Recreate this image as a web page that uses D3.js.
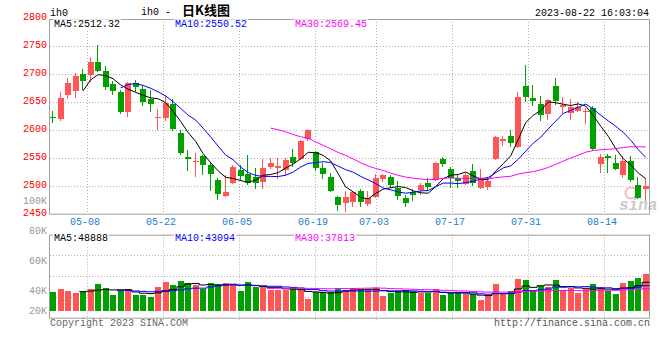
<!DOCTYPE html>
<html><head><meta charset="utf-8">
<script src="https://cdn.jsdelivr.net/npm/d3@7"></script>
<style>
html,body{margin:0;padding:0;background:#fff;}
svg{display:block;}
text{font-family:"Liberation Mono","DejaVu Sans Mono",monospace;}
</style></head><body>
<svg id="chart" width="660" height="360"></svg>
<script>
const dates = ["04-26","04-27","04-28","05-04","05-05","05-08","05-09","05-10","05-11","05-12",
"05-15","05-16","05-17","05-18","05-19","05-22","05-23","05-24","05-25","05-26",
"05-29","05-30","05-31","06-01","06-02","06-05","06-06","06-07","06-08","06-09",
"06-12","06-13","06-14","06-15","06-16","06-19","06-20","06-21","06-26","06-27",
"06-28","06-29","06-30","07-03","07-04","07-05","07-06","07-07","07-10","07-11",
"07-12","07-13","07-14","07-17","07-18","07-19","07-20","07-21","07-24","07-25",
"07-26","07-27","07-28","07-31","08-01","08-02","08-03","08-04","08-07","08-08",
"08-09","08-10","08-11","08-14","08-15","08-16","08-17","08-18","08-21","08-22"];
const opens = [2623,2619.6,2661.3,2668.5,2700,2697,2720.8,2705.4,2682.1,2666.7,
2631,2683.9,2673.2,2655.4,2622,2620.3,2646.4,2594.7,2551.8,2543,
2553.6,2537.5,2510.7,2481.6,2504.2,2528.6,2520.3,2516.1,2506,2534,
2531,2528,2550.6,2548.2,2583.3,2559.5,2532.1,2514.9,2479.8,2469,
2470.8,2489.9,2466.7,2480.4,2512.5,2516.1,2496.7,2477.4,2489,2492.5,
2505.4,2510.7,2548.2,2529.8,2514.3,2503,2526.3,2496.4,2498,2548.5,
2579,2588.8,2569,2678,2656.6,2646,2628,2678,2641,2630.4,
2633.4,2632,2639,2539.5,2553.5,2541,2519,2544,2501.3,2494];
const highs = [2634,2667.9,2692.3,2700.6,2708.9,2730.4,2751.8,2714.3,2686.3,2671.4,
2684.5,2689.3,2679.8,2670.8,2636.9,2662.5,2655.4,2600,2564.3,2558.3,
2555,2542.9,2514.3,2519.1,2536.9,2537.5,2555.4,2531,2547,2549.4,
2550,2548.8,2564.9,2581.5,2600.6,2561.3,2539.9,2522,2481,2490.5,
2488.7,2494.6,2491,2520.2,2521.4,2519,2509,2482.7,2495,2505,
2514,2542.3,2550.7,2534,2519.6,2523,2539,2530,2516,2588,
2588,2599.5,2666.8,2715.5,2680.4,2660,2654,2693,2658.5,2655,
2650,2639,2642,2556,2556.6,2554,2553.5,2553,2515.5,2512];
const lows = [2613,2616.7,2657.1,2657.7,2673.2,2686.3,2704,2673.2,2663.7,2630,
2623.8,2668.5,2644,2633.3,2601.2,2617.3,2599,2557,2527.4,2516.7,
2521.4,2491.7,2475.6,2481.6,2504.2,2509.5,2503,2495.3,2495.3,2531,
2513.7,2518.5,2535.1,2548.2,2582.1,2528,2513.7,2490,2457.1,2454.8,
2463.1,2463,2466,2480.4,2508.3,2497,2475.6,2463.7,2474,2485,
2492,2510.7,2535.2,2498.2,2498.2,2503,2501,2496,2495,2548,
2573,2571.4,2569,2652,2644.6,2617,2619,2646,2629,2619,
2633,2612,2564,2525,2524,2530,2515.5,2508.5,2478.6,2474.5];
const closes = [2622,2657.1,2683.9,2696.4,2686.3,2720.8,2704.2,2675.6,2668.5,2631,
2682.7,2676.2,2648.8,2645.8,2623,2647,2600.6,2557.8,2547,2544,
2536.9,2520.3,2484.5,2489.3,2534,2517.9,2504.2,2504.8,2532.2,2541.1,
2534.5,2545.2,2539.9,2579.8,2598.8,2531.6,2520.8,2490.5,2465.5,2479.8,
2488.7,2470.8,2478,2513.1,2519,2500.6,2482,2468.5,2484,2501.5,
2497.1,2541,2539.3,2514.3,2509,2519,2505,2512,2508,2587.5,
2583.7,2576,2658.4,2659,2651.8,2626,2653,2651.2,2645,2640.5,
2640.5,2633,2566,2550.5,2550,2530.4,2544,2510,2478.6,2499.5];
const volumes = [32325,36862,34026,30056,31758,36862,45368,38563,26654,33459,
36862,26654,27788,23251,40264,48771,43667,50472,47069,43667,
36862,47069,45368,47069,45935,33459,48771,40264,40264,35727,
36294,35727,38563,35727,19849,32325,32325,32325,38563,35727,
38563,35727,35727,38563,24952,30056,33459,35727,33459,30056,
30056,36862,26654,30056,30056,28355,28355,18147,26654,45368,
28355,33459,53875,52173,33459,41965,40264,52173,35160,38563,
30056,36862,45368,40264,33459,28355,47069,50472,55576,62948];
const priceTicks = [2800,2750,2700,2650,2600,2550,2500,2450];
const priceGrid = [2750,2700,2650,2600,2550,2500];
const dateTicks = ["05-08","05-22","06-05","06-19","07-03","07-17","07-31","08-14"];
const volTickValues = [80000,60000,40000,20000];
const volTickLabels = ["80K","60K","40K","20K"];
const maPeriods = [5,10,30];
const maColors = ["#000000","#0000ff","#ff00ff"];
const priceLegend = ["MA5:2512.32","MA10:2550.52","MA30:2569.45"];
const volLegend = ["MA5:48888","MA10:43094","MA30:37813"];
const symbol = "ih0";
const titleMain = "ih0 - ";
const titleCjk = "日K线图";
const stamp = "2023-08-22 16:03:04";
const copyright = "Copyright 2023 SINA.COM";
const siteUrl = "http://finance.sina.com.cn";

const UP = "#ff5555", DOWN = "#00a000", GRID = "#b0b0b0", BORDER = "#a0a0a0";
const svg = d3.select("#chart");
const idx = d3.range(dates.length);

const xBand = d3.scaleBand().domain(idx).range([49.3, 649.6]);
const xGrid = d3.scalePoint().domain(idx).range([49.5, 649.5]);
const bw = xBand.bandwidth();
const cx = i => xBand(i) + bw / 2;
const bodyX = i => Math.round(cx(i) - 3);

const mainTop = 19, mainBot = 213.7, volTop = 234.7, volBot = 317.7;
const yP = d3.scaleLinear().domain([2450, 2800]).range([213.7, 17.7]);
const yV = d3.scaleLinear().domain([0, 129300]).range([311, 235]);
const yVLab = d3.scaleLinear().domain([40000, 80000]).range([294, 234]);

function ma(arr, p) {
  return arr.map((v, i) => i < p - 1 ? null : d3.mean(arr.slice(i - p + 1, i + 1)));
}

const gridIdx = dateTicks.map(d => dates.indexOf(d));
const gx = i => Math.round(xGrid(i)) + 0.5;

// ---- main panel grid
const gMain = svg.append("g");
gMain.selectAll("line.h").data(priceGrid).join("line")
  .attr("x1", 50).attr("x2", 650)
  .attr("y1", d => Math.round(yP(d)) + 0.5).attr("y2", d => Math.round(yP(d)) + 0.5)
  .attr("stroke", GRID).attr("stroke-dasharray", "1,2");
gMain.selectAll("line.v").data(gridIdx).join("line")
  .attr("x1", gx).attr("x2", gx).attr("y1", mainTop).attr("y2", mainBot)
  .attr("stroke", GRID).attr("stroke-dasharray", "1,2");
gMain.append("path")
  .attr("d", `M49.5,${mainTop + 0.5}H649.5V${mainBot}M49.5,${mainTop}V${mainBot + 0.5}H650`)
  .attr("fill", "none").attr("stroke", BORDER);

// watermark
const wm = svg.append("g").attr("opacity", 0.55);
wm.append("circle").attr("cx", 631).attr("cy", 193).attr("r", 5.5)
  .attr("fill", "none").attr("stroke", "#f08080").attr("stroke-width", 2);
wm.append("text").attr("x", 619).attr("y", 210).text("sina")
  .attr("font-family", "DejaVu Sans").attr("font-style", "italic").attr("font-weight", "bold")
  .attr("font-size", 16).attr("fill", "#a0a0a0");

// candles
const gC = svg.append("g").attr("shape-rendering", "crispEdges");
idx.forEach(i => {
  const up = closes[i] >= opens[i];
  const col = up ? UP : DOWN;
  const bx = bodyX(i);
  gC.append("line").attr("x1", bx + 2.5).attr("x2", bx + 2.5)
    .attr("y1", Math.round(yP(highs[i]))).attr("y2", Math.round(yP(lows[i])) + 1)
    .attr("stroke", col);
  const t = Math.round(yP(Math.max(opens[i], closes[i])));
  const b = Math.round(yP(Math.min(opens[i], closes[i])));
  gC.append("rect").attr("x", bx).attr("width", 6)
    .attr("y", t).attr("height", Math.max(1, b - t)).attr("fill", col);
});

// MA lines main
maPeriods.forEach((p, k) => {
  const m = ma(closes, p);
  const line = d3.line().defined(d => d != null).x((d, i) => cx(i)).y(d => yP(d));
  svg.append("path").attr("d", line(m)).attr("fill", "none")
    .attr("stroke", maColors[k]).attr("stroke-width", 1);
});

function legend(labels, y) {
  const xs = [54, 175, 295];
  labels.forEach((s, k) => {
    const bg = svg.append("rect").attr("fill", "#fff");
    const t = svg.append("text").attr("x", xs[k]).attr("y", y).attr("font-size", 10)
      .attr("fill", maColors[k]).text(s);
    const bb = t.node().getBBox();
    bg.attr("x", bb.x - 1).attr("y", bb.y).attr("width", bb.width + 2).attr("height", bb.height);
  });
}
legend(priceLegend, 27.3);

svg.selectAll("text.py").data(priceTicks).join("text")
  .attr("x", 47).attr("y", d => yP(d) + 2).attr("text-anchor", "end")
  .attr("font-size", 10).attr("fill", "#ff0000").text(d => d);
svg.append("text").attr("x", 47).attr("y", 204).attr("text-anchor", "end")
  .attr("font-size", 10).attr("fill", "#999").text("100K");

svg.selectAll("text.dx").data(gridIdx).join("text")
  .attr("x", i => gx(i) - 2.5).attr("y", 224.5).attr("text-anchor", "middle")
  .attr("font-size", 10).attr("fill", "#2080d0").text(i => dates[i]);

svg.append("text").attr("x", 50).attr("y", 15.5).attr("font-size", 10).attr("fill", "#000").text(symbol);
const tt = svg.append("text").attr("x", 141).attr("y", 15).attr("fill", "#000");
tt.append("tspan").attr("font-size", 10).text(titleMain);
tt.append("tspan").attr("x", 182).attr("font-size", 13).attr("font-weight", "bold")
  .attr("font-family", "'Noto Sans CJK SC'").text(titleCjk);
svg.append("text").attr("x", 649).attr("y", 15.5).attr("text-anchor", "end")
  .attr("font-size", 10).attr("fill", "#000").text(stamp);

// ---- volume panel
const gVol = svg.append("g");
const vRows = d3.range(1, 4).map(k => volTop + (volBot - volTop) * k / 4);
gVol.selectAll("line.h").data(vRows).join("line")
  .attr("x1", 50).attr("x2", 650)
  .attr("y1", d => Math.round(d) + 0.5).attr("y2", d => Math.round(d) + 0.5)
  .attr("stroke", GRID).attr("stroke-dasharray", "1,2");
gVol.selectAll("line.v").data(gridIdx).join("line")
  .attr("x1", gx).attr("x2", gx).attr("y1", volTop).attr("y2", volBot + 3)
  .attr("stroke", GRID).attr("stroke-dasharray", "1,2");
gVol.append("rect").attr("x", 49.5).attr("y", volTop + 0.5).attr("width", 600).attr("height", volBot - volTop)
  .attr("fill", "none").attr("stroke", BORDER);

const gB = svg.append("g").attr("shape-rendering", "crispEdges");
gB.selectAll("rect").data(idx).join("rect")
  .attr("x", bodyX).attr("width", 6)
  .attr("y", i => Math.round(yV(volumes[i])))
  .attr("height", i => Math.round(yV(0)) - Math.round(yV(volumes[i])))
  .attr("fill", i => closes[i] >= opens[i] ? UP : DOWN);

maPeriods.forEach((p, k) => {
  const m = ma(volumes, p);
  const pts = [];
  m.forEach((v, i) => { if (v != null) { pts.push([xBand(i), yV(v)], [xBand(i) + bw, yV(v)]); } });
  svg.append("path").attr("d", d3.line()(pts)).attr("fill", "none")
    .attr("stroke", maColors[k]).attr("stroke-width", 1);
});

legend(volLegend, 241.3);

svg.selectAll("text.vy").data(volTickValues).join("text")
  .attr("x", 47).attr("y", d => Math.min(314, yVLab(d))).attr("text-anchor", "end")
  .attr("font-size", 10).attr("fill", "#999").text((d, k) => volTickLabels[k]);

svg.append("text").attr("x", 50).attr("y", 325.5).attr("font-size", 10).attr("fill", "#666").text(copyright);
svg.append("text").attr("x", 650).attr("y", 325.5).attr("text-anchor", "end")
  .attr("font-size", 10).attr("fill", "#555").text(siteUrl);
</script>
</body></html>
